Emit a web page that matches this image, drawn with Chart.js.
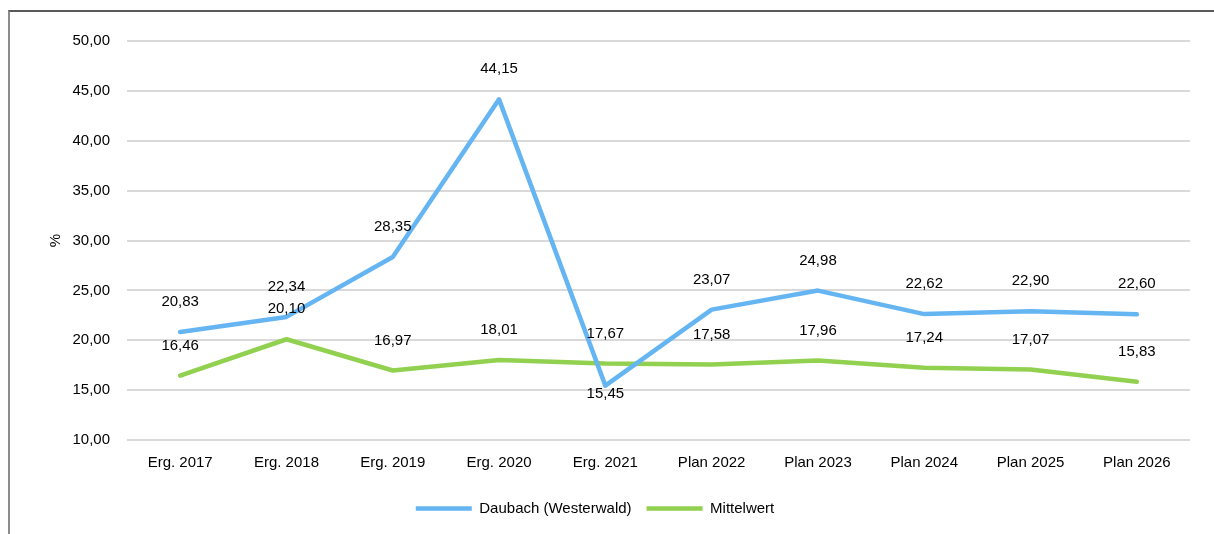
<!DOCTYPE html>
<html>
<head>
<meta charset="utf-8">
<script src="https://cdn.jsdelivr.net/npm/chart.js@4/dist/chart.umd.min.js"></script>
<style>
  html, body { margin: 0; padding: 0; background: #fff; }
  #wrap { position: relative; width: 1214px; height: 534px; }
  #frame { position: absolute; left: 8px; top: 10px; width: 1210px; height: 530px; border-left: 2px solid #8c8c8c; border-top: 2px solid #595959; box-sizing: border-box; pointer-events: none; }
  canvas { position: absolute; left: 0; top: 0; }
</style>
</head>
<body>
<div id="wrap">
  <canvas id="c" width="1214" height="534"></canvas>
  <div id="frame"></div>
</div>
<script>
const categories = ["Erg. 2017", "Erg. 2018", "Erg. 2019", "Erg. 2020", "Erg. 2021", "Plan 2022", "Plan 2023", "Plan 2024", "Plan 2025", "Plan 2026"];
const daubachValues = [20.83, 22.34, 28.35, 44.15, 15.45, 23.07, 24.98, 22.62, 22.90, 22.60];
const mittelwertValues = [16.46, 20.10, 16.97, 18.01, 17.67, 17.58, 17.96, 17.24, 17.07, 15.83];
const yTicks = [10, 15, 20, 25, 30, 35, 40, 45, 50];
// label placement: -1 = above, +1 = below
const daubachLabelPos = [-1, -1, -1, -1, 1, -1, -1, -1, -1, -1];
const mittelwertLabelPos = [-1, -1, -1, -1, -1, -1, -1, -1, -1, -1];

const fmt = v => v.toFixed(2).replace('.', ',');
const FONT = "'Liberation Sans', Arial, sans-serif";
const FS = 15;

const labelPlugin = {
  id: 'valueLabels',
  afterDatasetsDraw(chart) {
    const ctx = chart.ctx;
    ctx.save();
    ctx.font = FS + "px " + FONT;
    ctx.fillStyle = '#000';
    ctx.textAlign = 'center';
    ctx.textBaseline = 'middle';
    const positions = [daubachLabelPos, mittelwertLabelPos];
    chart.data.datasets.forEach((ds, di) => {
      const meta = chart.getDatasetMeta(di);
      meta.data.forEach((pt, i) => {
        const pos = positions[di][i];
        const dy = pos < 0 ? -30 : 8;
        ctx.fillText(fmt(ds.data[i]), pt.x, pt.y + dy);
      });
    });
    ctx.restore();
  }
};

new Chart(document.getElementById('c'), {
  type: 'line',
  data: {
    labels: categories,
    datasets: [
      { label: 'Daubach (Westerwald)', data: daubachValues, borderColor: '#66B5F3', backgroundColor: '#66B5F3', borderWidth: 4.5, pointRadius: 0, tension: 0, borderJoinStyle: 'round', borderCapStyle: 'round' },
      { label: 'Mittelwert', data: mittelwertValues, borderColor: '#92D050', backgroundColor: '#92D050', borderWidth: 4.5, pointRadius: 0, tension: 0, borderJoinStyle: 'round', borderCapStyle: 'round' }
    ]
  },
  options: {
    responsive: false,
    animation: false,
    devicePixelRatio: 1,
    layout: { padding: { left: 0, right: 24, top: 41, bottom: 8 } },
    plugins: {
      legend: {
        position: 'bottom',
        labels: {
          usePointStyle: true,
          pointStyle: 'line',
          pointStyleWidth: 56,
          boxHeight: 4,
          padding: 15,
          color: '#000',
          font: { family: FONT, size: FS }
        }
      },
      tooltip: { enabled: false }
    },
    scales: {
      x: {
        offset: true,
        grid: { display: false, drawTicks: false, offset: true },
        border: { display: false },
        ticks: { color: '#000', font: { family: FONT, size: FS }, padding: 14, maxRotation: 0 }
      },
      y: {
        min: 10, max: 50,
        afterBuildTicks: s => { s.ticks = yTicks.map(v => ({ value: v })); },
        afterFit: s => { s.width = 127; },
        grid: { color: '#d9d9d9', lineWidth: 2, drawTicks: false },
        border: { display: false },
        ticks: { color: '#000', font: { family: FONT, size: FS }, padding: 17, callback: v => fmt(v) },
        title: { display: true, text: '%', color: '#000', font: { family: FONT, size: FS }, padding: { top: 47, bottom: 0 } }
      }
    }
  },
  plugins: [labelPlugin]
});
</script>
</body>
</html>
